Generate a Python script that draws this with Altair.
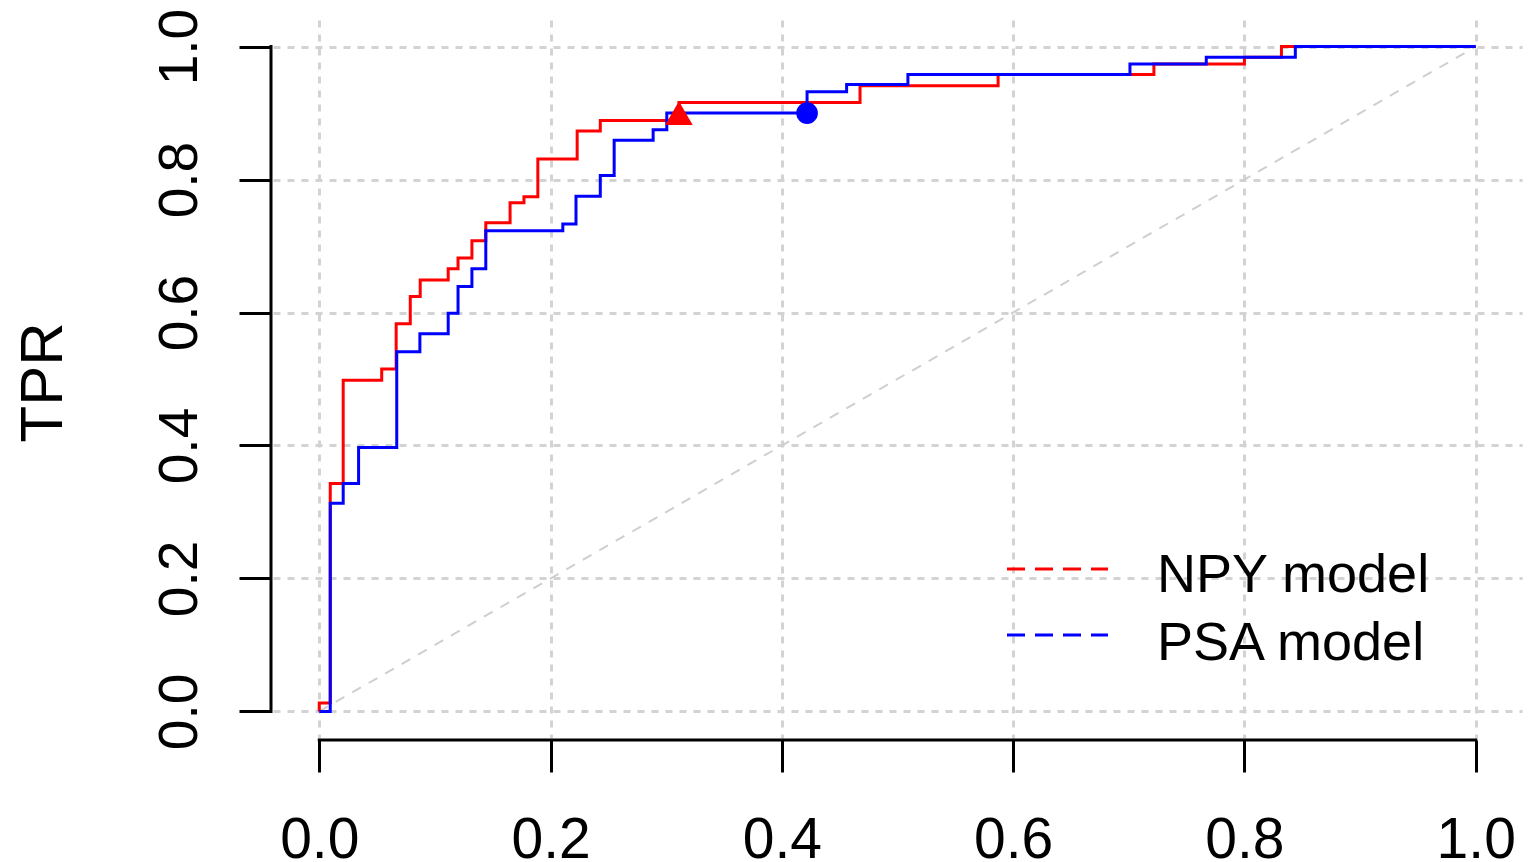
import altair as alt
import pandas as pd

# ---- data ----
series_names = ["NPY model", "PSA model"]
series_colors = ["#ff0000", "#0000ff"]

npy_fpr = [0.0, 0.0, 0.0095, 0.0095, 0.0207, 0.0207, 0.054, 0.054, 0.0665, 0.0665,
           0.0787, 0.0787, 0.0873, 0.0873, 0.1115, 0.1115, 0.120, 0.120, 0.132, 0.132,
           0.144, 0.144, 0.165, 0.165, 0.177, 0.177, 0.189, 0.189, 0.223, 0.223,
           0.243, 0.243, 0.311, 0.311, 0.4676, 0.4676, 0.587, 0.587, 0.7217, 0.7217,
           0.800, 0.800, 0.832, 0.832, 1.0]
npy_tpr = [0.0, 0.0125, 0.0125, 0.343, 0.343, 0.498, 0.498, 0.515, 0.515, 0.583,
           0.583, 0.624, 0.624, 0.649, 0.649, 0.666, 0.666, 0.682, 0.682, 0.708,
           0.708, 0.735, 0.735, 0.765, 0.765, 0.774, 0.774, 0.831, 0.831, 0.873,
           0.873, 0.889, 0.889, 0.916, 0.916, 0.941, 0.941, 0.958, 0.958, 0.974,
           0.974, 0.984, 0.984, 1.0, 1.0]

psa_fpr = [0.0, 0.0095, 0.0095, 0.0207, 0.0207, 0.034, 0.034, 0.067, 0.067, 0.087,
           0.087, 0.1115, 0.1115, 0.120, 0.120, 0.132, 0.132, 0.144, 0.144, 0.2106,
           0.2106, 0.222, 0.222, 0.243, 0.243, 0.255, 0.255, 0.2887, 0.2887, 0.3005,
           0.3005, 0.4218, 0.4218, 0.456, 0.456, 0.509, 0.509, 0.701, 0.701, 0.767,
           0.767, 0.844, 0.844, 1.0]
psa_tpr = [0.0, 0.0, 0.313, 0.313, 0.343, 0.343, 0.397, 0.397, 0.541, 0.541,
           0.568, 0.568, 0.599, 0.599, 0.639, 0.639, 0.666, 0.666, 0.723, 0.723,
           0.733, 0.733, 0.775, 0.775, 0.806, 0.806, 0.859, 0.859, 0.875, 0.875,
           0.900, 0.900, 0.932, 0.932, 0.943, 0.943, 0.958, 0.958, 0.974, 0.974,
           0.984, 0.984, 1.0, 1.0]

# best-threshold points
cut_fpr = [0.311, 0.4218]
cut_tpr = [0.900, 0.900]

diag_fpr = [0.0, 1.0]
diag_tpr = [0.0, 1.0]

tick_values = [0.0, 0.2, 0.4, 0.6, 0.8, 1.0]
axis_range = [-0.04, 1.04]

# ---- tables ----
curves = pd.DataFrame({
    "fpr": npy_fpr + psa_fpr,
    "tpr": npy_tpr + psa_tpr,
    "series": [series_names[0]] * len(npy_fpr) + [series_names[1]] * len(psa_fpr),
    "step": list(range(len(npy_fpr))) + list(range(len(psa_fpr))),
})
cuts = pd.DataFrame({"fpr": cut_fpr, "tpr": cut_tpr, "series": series_names})
diag = pd.DataFrame({"fpr": diag_fpr, "tpr": diag_tpr})
xdom = pd.DataFrame({"fpr": [tick_values[0]], "fpr_end": [tick_values[-1]]})
ydom = pd.DataFrame({"tpr": [tick_values[0]], "tpr_end": [tick_values[-1]]})
legend_df = pd.DataFrame({"series": series_names})

FONT = "Liberation Sans"
W, H = 1249, 718

X = alt.X(
    "fpr:Q",
    scale=alt.Scale(domain=axis_range, nice=False, zero=False),
    axis=alt.Axis(
        values=tick_values, format=".1f", title=None, domain=False,
        ticks=True, tickSize=32, tickWidth=3, tickColor="black",
        labelFont=FONT, labelFontSize=57, labelColor="black",
        labelPadding=85, labelBaseline="alphabetic", labelAlign="center",
        labelFlush=False, labelOverlap=False,
        grid=True, gridDash=[7, 7], gridColor="#d3d3d3", gridWidth=3,
        offset=2,
    ),
)
Y = alt.Y(
    "tpr:Q",
    scale=alt.Scale(domain=axis_range, nice=False, zero=False),
    axis=alt.Axis(
        values=tick_values, format=".1f", title="TPR", domain=False,
        ticks=True, tickSize=32, tickWidth=3, tickColor="black",
        labelFont=FONT, labelFontSize=55, labelColor="black",
        labelAngle=270, labelAlign="center", labelBaseline="alphabetic",
        labelPadding=43, labelFlush=False, labelOverlap=False,
        grid=True, gridDash=[7, 7], gridColor="#d3d3d3", gridWidth=3,
        titleFont=FONT, titleFontSize=60, titleFontWeight="normal",
        titleColor="black", titleAngle=270, titleAlign="center",
        titleBaseline="alphabetic", titleX=-210, titleY=362,
        offset=2,
    ),
)

color = alt.Color("series:N", scale=alt.Scale(domain=series_names, range=series_colors), legend=None)

diag_layer = alt.Chart(diag).mark_line(color="#cfcfcf", strokeWidth=2, strokeDash=[10, 9]).encode(x=X, y=Y)

lines = alt.Chart(curves).mark_line(strokeWidth=3).encode(
    x=X, y=Y, color=color, order="step:Q", detail="series:N"
)

tri = alt.Chart(cuts).transform_filter(alt.datum.series == series_names[0]).mark_point(
    shape="triangle-up", filled=True, opacity=1, size=760
).encode(x=X, y=Y, color=color)
circ = alt.Chart(cuts).transform_filter(alt.datum.series == series_names[1]).mark_point(
    shape="circle", filled=True, opacity=1, size=470
).encode(x=X, y=Y, color=color)

x_domain_line = alt.Chart(xdom).mark_rule(color="black", strokeWidth=3, strokeCap="square").encode(
    x=X, x2="fpr_end:Q", y=alt.value(H + 2)
)
y_domain_line = alt.Chart(ydom).mark_rule(color="black", strokeWidth=3, strokeCap="square").encode(
    y=Y, y2="tpr_end:Q", x=alt.value(-2)
)

legend_line_y = [549, 615]
legend_text_y = [572, 640]
legend_layers = []
for i, name in enumerate(series_names):
    legend_layers.append(
        alt.Chart(legend_df).transform_filter(alt.datum.series == name).mark_rule(
            color=series_colors[i], strokeWidth=3, strokeDash=[18, 10]
        ).encode(x=alt.value(734), x2=alt.value(835), y=alt.value(legend_line_y[i]))
    )
    legend_layers.append(
        alt.Chart(legend_df).transform_filter(alt.datum.series == name).mark_text(
            align="left", baseline="alphabetic", font=FONT, fontSize=54, color="black"
        ).encode(text="series:N", x=alt.value(884), y=alt.value(legend_text_y[i]))
    )

chart = alt.layer(
    diag_layer, lines, tri, circ, x_domain_line, y_domain_line, *legend_layers
).properties(
    width=W, height=H,
    background="white",
    autosize=alt.AutoSizeParams(type="none"),
    padding={"left": 265, "top": 12, "right": 7, "bottom": 124},
).configure_view(strokeWidth=0, stroke="transparent")

chart.save("out.html", embed_options={"renderer": "svg", "actions": False})
